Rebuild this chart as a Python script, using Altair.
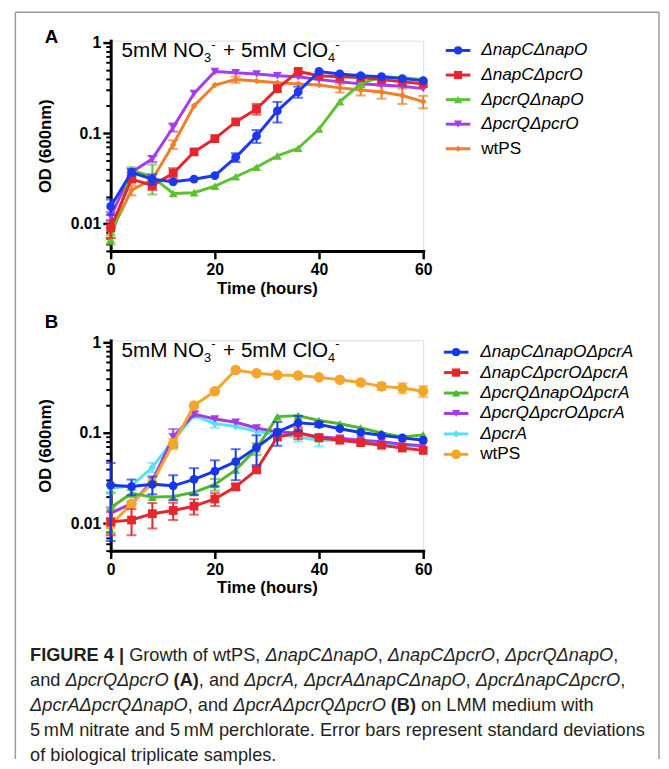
import altair as alt
import pandas as pd

# ---------------- data ----------------
TIME = [0, 4, 8, 12, 16, 20, 24, 28, 32, 36, 40, 44, 48, 52, 56, 60]

# Panel A
A_NAMES = ["ΔnapCΔnapO", "ΔnapCΔpcrO", "ΔpcrQΔnapO", "ΔpcrQΔpcrO", "wtPS"]
A_napCnapO = [0.0155, 0.037, 0.031, 0.029, 0.031, 0.034, 0.054, 0.093, 0.176, 0.286, 0.48, 0.45, 0.43, 0.42, 0.40, 0.38]
A_napCnapO_sd = [0.003, 0.003, 0.004, 0, 0, 0, 0.006, 0.015, 0.045, 0.04, 0, 0, 0, 0, 0, 0]
A_napCpcrO = [0.0090, 0.031, 0.0265, 0.036, 0.062, 0.087, 0.133, 0.185, 0.31, 0.48, 0.43, 0.42, 0.41, 0.39, 0.37, 0.35]
A_napCpcrO_sd = [0.002, 0.002, 0.003, 0.005, 0, 0, 0, 0.025, 0, 0, 0, 0, 0, 0, 0, 0]
A_pcrQnapO = [0.0067, 0.039, 0.033, 0.0216, 0.022, 0.026, 0.033, 0.042, 0.056, 0.068, 0.111, 0.223, 0.35, 0.42, 0.41, 0.39]
A_pcrQnapO_sd = [0.0008, 0.003, 0.012, 0, 0, 0, 0, 0, 0, 0, 0, 0, 0.03, 0, 0, 0]
A_pcrQpcrO = [0.012, 0.037, 0.052, 0.116, 0.274, 0.48, 0.465, 0.45, 0.43, 0.42, 0.39, 0.37, 0.35, 0.34, 0.33, 0.31]
A_pcrQpcrO_sd = [0.0015, 0, 0.004, 0.012, 0, 0, 0, 0, 0, 0, 0, 0, 0, 0, 0, 0]
A_wtPS = [0.0079, 0.0235, 0.031, 0.075, 0.20, 0.34, 0.39, 0.377, 0.36, 0.35, 0.34, 0.316, 0.30, 0.285, 0.26, 0.223]
A_wtPS_sd = [0.001, 0.003, 0, 0.008, 0, 0, 0.03, 0, 0, 0, 0, 0.035, 0.04, 0.045, 0.05, 0.035]

# Panel B
B_NAMES = ["ΔnapCΔnapOΔpcrA", "ΔnapCΔpcrOΔpcrA", "ΔpcrQΔnapOΔpcrA", "ΔpcrQΔpcrOΔpcrA", "ΔpcrA", "wtPS"]
B_napCnapO = [0.0264, 0.0255, 0.027, 0.026, 0.0307, 0.0377, 0.048, 0.069, 0.102, 0.129, 0.124, 0.111, 0.101, 0.094, 0.088, 0.083]
B_napCnapO_sd = [0.02, 0.005, 0.006, 0.008, 0.01, 0.012, 0.018, 0.025, 0.03, 0.025, 0.008, 0, 0, 0, 0, 0]
B_napCpcrO = [0.0104, 0.0109, 0.0128, 0.0139, 0.0155, 0.0186, 0.0253, 0.039, 0.090, 0.100, 0.088, 0.083, 0.078, 0.073, 0.068, 0.064]
B_napCpcrO_sd = [0.003, 0.0035, 0.004, 0.003, 0.003, 0.003, 0.002, 0.003, 0, 0.015, 0, 0, 0, 0, 0, 0]
B_pcrQnapO = [0.0149, 0.0215, 0.0195, 0.0198, 0.022, 0.027, 0.039, 0.067, 0.151, 0.155, 0.137, 0.126, 0.113, 0.100, 0.090, 0.095]
B_pcrQnapO_sd = [0.007, 0.002, 0, 0, 0, 0.004, 0, 0.01, 0, 0, 0, 0, 0, 0, 0, 0]
B_pcrQpcrO = [0.013, 0.0165, 0.0294, 0.090, 0.161, 0.142, 0.131, 0.113, 0.102, 0.100, 0.090, 0.087, 0.083, 0.080, 0.075, 0.072]
B_pcrQpcrO_sd = [0.002, 0, 0, 0.02, 0.01, 0, 0, 0, 0, 0, 0, 0, 0, 0, 0, 0]
B_pcrA = [0.0244, 0.026, 0.0417, 0.083, 0.155, 0.126, 0.118, 0.104, 0.095, 0.090, 0.083, 0.083, 0.080, 0.077, 0.073, 0.0705]
B_pcrA_sd = [0.003, 0, 0.005, 0.015, 0, 0.012, 0, 0, 0, 0.01, 0.012, 0, 0, 0, 0, 0]
B_wtPS = [0.0096, 0.0165, 0.028, 0.076, 0.20, 0.288, 0.494, 0.455, 0.436, 0.43, 0.41, 0.385, 0.36, 0.326, 0.313, 0.288]
B_wtPS_sd = [0.002, 0, 0, 0.01, 0, 0, 0, 0, 0, 0, 0, 0, 0, 0.03, 0.04, 0.04]

Y_MAJOR = [0.01, 0.1, 1]
Y_MINOR = [0.005, 0.006, 0.007, 0.008, 0.009, 0.02, 0.03, 0.04, 0.05, 0.06, 0.07, 0.08, 0.09,
           0.2, 0.3, 0.4, 0.5, 0.6, 0.7, 0.8, 0.9]
X_TICKS = [0, 20, 40, 60]

CAPTION = [
    [("b", "FIGURE 4 | "), ("r", "Growth of wtPS, "), ("i", "ΔnapCΔnapO"), ("r", ", "),
     ("i", "ΔnapCΔpcrO"), ("r", ", "), ("i", "ΔpcrQΔnapO"), ("r", ",")],
    [("r", "and "), ("i", "ΔpcrQΔpcrO"), ("r", " "), ("b", "(A)"), ("r", ", and "),
     ("i", "ΔpcrA, ΔpcrAΔnapCΔnapO"), ("r", ", "), ("i", "ΔpcrΔnapCΔpcrO"), ("r", ",")],
    [("i", "ΔpcrAΔpcrQΔnapO"), ("r", ", and "), ("i", "ΔpcrAΔpcrQΔpcrO"), ("r", " "), ("b", "(B)"),
     ("r", " on LMM medium with")],
    [("r", "5\u2009mM nitrate and 5\u2009mM perchlorate. Error bars represent standard deviations")],
    [("r", "of biological triplicate samples.")],
]

# ---------------- styling ----------------
FONT = "Liberation Sans"
W, H = 318, 214
XS = alt.Scale(domain=[0, 60], nice=False, zero=False)
YS = alt.Scale(type="log", domain=[0.005, 1.05], nice=False)

W_REG = {' ': 278, '!': 278, '(': 333, ')': 333, ',': 278, '-': 333, '.': 278, '|': 260, '+': 584,
         'A': 667, 'B': 667, 'C': 722, 'D': 722, 'E': 667, 'F': 611, 'G': 778, 'H': 722, 'I': 278,
         'J': 500, 'K': 667, 'L': 556, 'M': 833, 'N': 722, 'O': 778, 'P': 667, 'Q': 778, 'R': 722,
         'S': 667, 'T': 611, 'U': 722, 'V': 667, 'W': 944, 'X': 667, 'Y': 667, 'Z': 611,
         'a': 556, 'b': 556, 'c': 500, 'd': 556, 'e': 556, 'f': 278, 'g': 556, 'h': 556, 'i': 222,
         'j': 222, 'k': 500, 'l': 222, 'm': 833, 'n': 556, 'o': 556, 'p': 556, 'q': 556, 'r': 333,
         's': 500, 't': 278, 'u': 556, 'v': 500, 'w': 722, 'x': 500, 'y': 500, 'z': 500,
         'Δ': 667, '\u2009': 167}
W_BOLD = {' ': 278, '(': 333, ')': 333, ',': 278, '|': 280, 'A': 722, 'B': 722, 'E': 667,
          'F': 611, 'G': 778, 'I': 278, 'R': 722, 'U': 722}


def tw(s, fs, bold=False):
    tab = W_BOLD if bold else W_REG
    return sum(tab.get(ch, W_REG.get(ch, 556)) for ch in s) / 1000.0 * fs


ONE = pd.DataFrame({"a": [0]})


def text_layer(txt, x, y, fs, weight="normal", style="normal", color="black", align="left",
               baseline="alphabetic"):
    return alt.Chart(ONE).mark_text(
        text=txt, font=FONT, fontSize=fs, fontWeight=weight, fontStyle=style, color=color,
        align=align, baseline=baseline
    ).encode(x=alt.value(x), y=alt.value(y))


def axis_layers(df_all):
    main = alt.Chart(df_all).mark_point(opacity=0).encode(
        x=alt.X("t:Q", scale=XS, axis=alt.Axis(
            values=X_TICKS, title="Time (hours)", titleY=38, titleBaseline="middle",
            titleFontSize=17, titleFontWeight="bold", titleFont=FONT, titleColor="black",
            labelFontSize=16, labelFontWeight="bold", labelFont=FONT, labelColor="black",
            tickSize=8, tickWidth=2.5, domainWidth=3, domainColor="black", tickColor="black",
            labelPadding=3, grid=False, labelFlush=False, domainCap="square")),
        y=alt.Y("v:Q", scale=YS, axis=alt.Axis(
            values=Y_MAJOR, format="~g", title="OD (600nm)", titleX=-66, titleY=H / 2,
            titleBaseline="middle", titleAlign="center", titleAngle=-90,
            titleFontSize=17, titleFontWeight="bold", titleFont=FONT, titleColor="black",
            labelFontSize=16, labelFontWeight="bold", labelFont=FONT, labelColor="black",
            tickSize=8, tickWidth=2.5, domainWidth=3, domainColor="black", tickColor="black",
            labelPadding=2, grid=False, labelFlush=False, orient="left", domainCap="square")),
    )
    minor = alt.Chart(df_all).mark_point(opacity=0).encode(
        x=alt.X("t:Q", scale=XS, axis=None),
        y=alt.Y("v:Q", scale=YS, axis=alt.Axis(
            values=Y_MINOR, labels=False, tickSize=5, tickWidth=2, tickColor="black",
            domain=False, grid=False, title=None, orient="left")),
    )
    return [main, minor]


def series_layers(vals, sds, color, shape, size):
    df = pd.DataFrame({"t": TIME, "v": vals, "sd": sds})
    df["lo"] = df["v"] - df["sd"]
    df["hi"] = df["v"] + df["sd"]
    err = df[df["sd"] > 0]
    out = []
    if len(err):
        out.append(alt.Chart(err).mark_errorbar(ticks=True, size=10, thickness=2, color=color).encode(
            x=alt.X("t:Q", scale=XS, axis=None),
            y=alt.Y("lo:Q", scale=YS, axis=None, title=None),
            y2="hi:Q"))
    out.append(alt.Chart(df).mark_line(color=color, strokeWidth=3).encode(
        x=alt.X("t:Q", scale=XS, axis=None), y=alt.Y("v:Q", scale=YS, axis=None)))
    out.append(alt.Chart(df).mark_point(filled=True, shape=shape, size=size, color=color,
                                        opacity=1).encode(
        x=alt.X("t:Q", scale=XS, axis=None), y=alt.Y("v:Q", scale=YS, axis=None)))
    return out


def rule_layer(x0, y0, color, width, x1=None, y1=None):
    enc = {"x": alt.value(x0), "y": alt.value(y0)}
    if x1 is not None:
        enc["x2"] = alt.value(x1)
    if y1 is not None:
        enc["y2"] = alt.value(y1)
    return alt.Chart(ONE).mark_rule(color=color, strokeWidth=width).encode(**enc)


def legend_layers(names, colors, shapes, sizes, x0, x1, xt, y0, dy, fs):
    out = []
    for i, (n, c, s, z) in enumerate(zip(names, colors, shapes, sizes)):
        y = y0 + dy * i
        out.append(rule_layer(x0, y, c, 3, x1=x1))
        out.append(alt.Chart(ONE).mark_point(filled=True, shape=s, size=z, color=c, opacity=1).encode(
            x=alt.value((x0 + x1) / 2), y=alt.value(y)))
        out.append(text_layer(n, xt, y, fs, style="normal" if n == "wtPS" else "italic",
                              baseline="middle"))
    return out


def annotation_layers(x, y):
    fs, fss = 21, 13
    out = []
    parts = [("5mM NO", 0), ("3", 1), ("-", 2), (" + 5mM ClO", 0), ("4", 1), ("-", 2)]
    cx = x
    for txt, kind in parts:
        if kind == 0:
            lead = len(txt) - len(txt.lstrip())
            out.append(text_layer(txt.strip(), cx + tw(txt[:lead], fs), y, fs))
            cx += tw(txt, fs)
        elif kind == 1:
            out.append(text_layer(txt, cx, y + 5, fss))
            cx += tw(txt, fss)
        else:
            out.append(text_layer(txt, cx, y - 9, fss))
            cx += tw(txt, fss) + 2
    return out


def caption_layers(x0, y0, dy, fs):
    out = []
    for li, line in enumerate(CAPTION):
        cx = x0
        y = y0 + li * dy
        for sty, txt in line:
            bold = sty == "b"
            lead = len(txt) - len(txt.lstrip())
            body = txt.strip()
            if body:
                out.append(text_layer(body, cx + tw(txt[:lead], fs, bold), y, fs,
                                      weight="bold" if bold else "normal",
                                      style="italic" if sty == "i" else "normal",
                                      color="#231f20"))
            cx += tw(txt, fs, bold)
    return out


# ---------------- panel A ----------------
A_COLORS = ["#1c39f0", "#e5262d", "#5cc232", "#a53ced", "#f17e29"]
A_SHAPES = ["circle", "square", "triangle-up", "triangle-down", "diamond"]
A_SIZES = [80, 80, 80, 80, 45]
A_VALS = [A_napCnapO, A_napCpcrO, A_pcrQnapO, A_pcrQpcrO, A_wtPS]
A_SDS = [A_napCnapO_sd, A_napCpcrO_sd, A_pcrQnapO_sd, A_pcrQpcrO_sd, A_wtPS_sd]

dfA = pd.DataFrame({"t": TIME * 5, "v": sum(A_VALS, [])})
layersA = []
layersA += axis_layers(dfA)
for idx in [4, 3, 2, 1, 0]:
    layersA += series_layers(A_VALS[idx], A_SDS[idx], A_COLORS[idx], A_SHAPES[idx], A_SIZES[idx])
layersA += legend_layers(A_NAMES, A_COLORS, A_SHAPES, [70, 70, 70, 70, 40],
                         341, 366, 377, 10, 25, 17.5)
layersA += annotation_layers(11, 17)
layersA.append(text_layer("A", -67, 2, 19, weight="bold"))
# figure frame (open at the bottom, like the cropped figure box) - drawn last
FRAME = "#9a9a9a"
layersA.append(rule_layer(-97, -29, FRAME, 1.5, x1=558))
layersA.append(rule_layer(-97, -29, FRAME, 1.5, y1=731))
layersA.append(rule_layer(558, -29, FRAME, 1.5, y1=731))

panelA = alt.layer(*layersA).resolve_axis(x="independent", y="independent").properties(
    width=W, height=H)

# ---------------- panel B ----------------
B_COLORS = ["#1637e8", "#e3272c", "#4fb92e", "#a23be8", "#55e3f3", "#f4a62a"]
B_SHAPES = ["circle", "square", "triangle-up", "triangle-down", "diamond", "circle"]
B_SIZES = [80, 80, 80, 80, 60, 115]
B_VALS = [B_napCnapO, B_napCpcrO, B_pcrQnapO, B_pcrQpcrO, B_pcrA, B_wtPS]
B_SDS = [B_napCnapO_sd, B_napCpcrO_sd, B_pcrQnapO_sd, B_pcrQpcrO_sd, B_pcrA_sd, B_wtPS_sd]

dfB = pd.DataFrame({"t": TIME * 6, "v": sum(B_VALS, [])})
layersB = []
layersB += axis_layers(dfB)
for idx in [4, 3, 5, 2, 1, 0]:
    layersB += series_layers(B_VALS[idx], B_SDS[idx], B_COLORS[idx], B_SHAPES[idx], B_SIZES[idx])
layersB += legend_layers(B_NAMES, B_COLORS, B_SHAPES, [70, 70, 70, 70, 55, 100],
                         339, 364, 376, 12, 20.8, 17.5)
layersB += annotation_layers(11, 17)
layersB.append(text_layer("B", -67, -13, 19, weight="bold"))
layersB += caption_layers(-82, 326, 25.5, 18.5)

panelB = alt.layer(*layersB).resolve_axis(x="independent", y="independent").properties(
    width=W, height=H)

chart = alt.vconcat(panelA, panelB, spacing=91, bounds="flush").properties(
    padding={"left": 5.5, "top": -4.5, "right": 0, "bottom": 0}
).configure_view(strokeWidth=0).configure(font=FONT)

chart.save("out.html", embed_options={"renderer": "svg", "actions": False})
